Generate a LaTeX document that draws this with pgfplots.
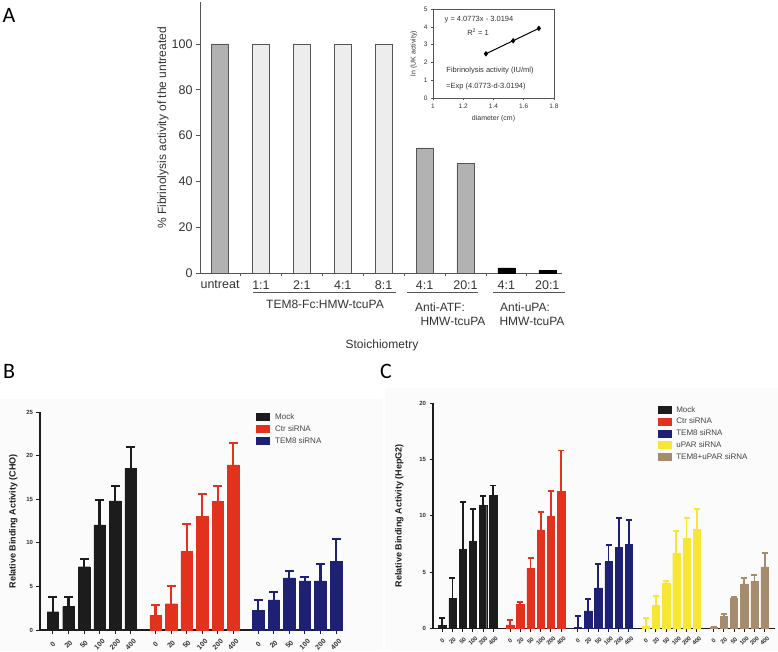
\documentclass[border=0pt]{standalone}
\usepackage{fontspec}
\setmainfont{Liberation Sans}
\newfontfamily\labfont{Carlito}
\usepackage{pgfplots}
\pgfplotsset{compat=1.18}
\definecolor{cblack}{HTML}{1C1C1C}
\definecolor{cred}{HTML}{E2311D}
\definecolor{cnavy}{HTML}{1E2173}
\definecolor{cyellow}{HTML}{F7E633}
\definecolor{ctan}{HTML}{A48C6C}
\definecolor{txtgray}{HTML}{333333}
\definecolor{leggray}{HTML}{454545}
\definecolor{lightbar}{HTML}{EDEDED}
\definecolor{midbar}{HTML}{B2B2B2}
\definecolor{axgray}{HTML}{555555}
\definecolor{bggray}{HTML}{FBFBFB}
\newcommand{\fs}[1]{\fontsize{#1}{#1}\selectfont}
\pgfplotsset{
  barB/.style={ybar, bar shift=0pt, bar width=11.5pt, fill=#1, draw=#1, forget plot,
    error bars/.cd, y dir=plus, y explicit, error mark=-,
    error bar style={draw=#1, line width=2.2pt},
    error mark options={rotate=90, mark size=4.5pt, draw=#1, line width=2pt}},
  barC/.style={ybar, bar shift=0pt, bar width=7.3pt, fill=#1, draw=#1, forget plot,
    error bars/.cd, y dir=plus, y explicit, error mark=-,
    error bar style={draw=#1, line width=1.8pt},
    error mark options={rotate=90, mark size=3pt, draw=#1, line width=1.8pt}},
  sw/.style={legend image code/.code={\fill[#1] (0pt,-3.5pt) rectangle (13pt,3.5pt);}},
}
\begin{document}
\begin{tikzpicture}
\useasboundingbox (0pt,0pt) rectangle (778pt,-651pt);
\fill[bggray] (0pt,-399pt) rectangle (383pt,-651pt);
\fill[bggray] (385pt,-388pt) rectangle (778pt,-651pt);
% ---------------- Panel A ----------------
\node[font=\labfont\fs{22}] at (9pt,-15pt) {A};
\begin{axis}[
  at={(200pt,-273pt)}, anchor=south west, scale only axis,
  width=362pt, height=271pt,
  xmin=-0.49, xmax=8.36, ymin=0, ymax=118.3,
  axis lines=left, axis line style={-, line width=1pt, draw=axgray},
  tick align=outside, major tick length=4pt, minor tick length=3pt,
  tick style={line width=0.8pt, draw=axgray},
  xtick={0,...,8}, xticklabels={untreat,1:1,2:1,4:1,8:1,4:1,20:1,4:1,20:1},
  minor xtick={0.5,1.5,2.5,3.5,4.5,5.5,6.5,7.5},
  major x tick style={draw=none},
  ytick={0,20,40,60,80,100},
  /pgf/number format/assume math mode=true,
  ticklabel style={font=\fs{12.5}, text=txtgray},
  clip=false,
]
\addplot[ybar, bar shift=0pt, bar width=17pt, fill=midbar, draw=axgray, line width=0.8pt] coordinates {(0,100) (5,54.6) (6,48.0)};
\addplot[ybar, bar shift=0pt, bar width=17pt, fill=lightbar, draw=axgray, line width=0.8pt] coordinates {(1,100) (2,100) (3,100) (4,100)};
\addplot[ybar, bar shift=0pt, bar width=17pt, fill=black, draw=black] coordinates {(7,2.2) (8,1.1)};
\end{axis}
\node[rotate=90, font=\fs{12}, text=txtgray] at (163pt,-128pt) {\% Fibrinolysis activity of the untreated};
\draw[axgray, line width=0.8pt] (253pt,-292pt) -- (396pt,-292pt);
\draw[axgray, line width=0.8pt] (407pt,-292pt) -- (478pt,-292pt);
\draw[axgray, line width=0.8pt] (493pt,-292pt) -- (565pt,-292pt);
\node[font=\fs{12}, text=txtgray] at (325pt,-304pt) {TEM8-Fc:HMW-tcuPA};
\node[font=\fs{12}, text=txtgray] at (440pt,-307pt) {Anti-ATF:};
\node[font=\fs{12}, text=txtgray] at (453pt,-321pt) {HMW-tcuPA};
\node[font=\fs{12}, text=txtgray] at (525pt,-307pt) {Anti-uPA:};
\node[font=\fs{12}, text=txtgray] at (532pt,-321pt) {HMW-tcuPA};
\node[font=\fs{12}, text=txtgray] at (382pt,-345pt) {Stoichiometry};
% inset
\begin{axis}[
  at={(433pt,-98pt)}, anchor=south west, scale only axis,
  width=121pt, height=89pt,
  xmin=1, xmax=1.8, ymin=0, ymax=5,
  xtick={1,1.2,1.4,1.6,1.8}, xticklabels={1,1.2,1.4,1.6,1.8},
  ytick={0,1,2,3,4,5},
  tick pos=left, tick align=outside, major tick length=2pt,
  axis line style={draw=axgray, line width=0.8pt},
  tick style={draw=axgray, line width=0.6pt},
  /pgf/number format/assume math mode=true,
  ticklabel style={font=\fs{6.5}, text=txtgray},
  xlabel={diameter (cm)}, ylabel={ln (UK activity)},
  label style={font=\fs{7}, text=txtgray},
  clip=false,
]
\addplot[black, line width=1pt, mark=diamond*, mark size=2pt] coordinates {(1.35,2.485) (1.53,3.219) (1.7,3.912)};
\node[font=\fs{7.5}, text=txtgray] at (axis cs:1.304,4.38) {y = 4.0773x - 3.0194};
\node[font=\fs{7.5}, text=txtgray] at (axis cs:1.298,3.71) {R\textsuperscript{2} = 1};
\node[font=\fs{7.5}, text=txtgray] at (axis cs:1.377,1.52) {Fibrinolysis activity (IU/ml)};
\node[font=\fs{7.5}, text=txtgray] at (axis cs:1.35,0.67) {=Exp (4.0773-d-3.0194)};
\end{axis}
% ---------------- Panel B ----------------
\node[font=\labfont\fs{22}] at (9pt,-371pt) {B};
\begin{axis}[
  at={(40pt,-630pt)}, anchor=south west, scale only axis,
  width=303pt, height=217.7pt,
  xmin=-0.83, xmax=18.65, ymin=0, ymax=25,
  axis lines=left, axis line style={-, line width=1.3pt, draw=cblack},
  tick align=outside, major tick length=3.5pt, tick style={line width=1pt, draw=cblack},
  ytick={0,5,10,15,20,25},
  xtick={0,1,2,3,4,5,6.6,7.6,8.6,9.6,10.6,11.6,13.2,14.2,15.2,16.2,17.2,18.2},
  xticklabels={0,20,50,100,200,400,0,20,50,100,200,400,0,20,50,100,200,400},
  /pgf/number format/assume math mode=true,
  yticklabel style={font=\bfseries\fs{6}, text=txtgray},
  xticklabel style={font=\bfseries\fs{7}, text=txtgray, yshift=-11pt, rotate=45, anchor=center},
  ylabel={Relative Binding Activity (CHO)},
  ylabel style={font=\bfseries\fs{9}, text=cblack},
  ylabel shift=2pt,
  legend style={at={(axis description cs:0.712,1.0)}, anchor=north west, draw=none, fill=none,
    inner sep=0pt, outer sep=0pt, font=\fs{8}, text=leggray, row sep=2.5pt,
    nodes={inner sep=1pt, text height=6pt, text depth=1.5pt},
    /tikz/every odd column/.append style={column sep=5pt}},
  legend cell align=left,
  clip=false,
]
\addlegendimage{sw=cblack}\addlegendentry{Mock}
\addlegendimage{sw=cred}\addlegendentry{Ctr siRNA}
\addlegendimage{sw=cnavy}\addlegendentry{TEM8 siRNA}
\addplot[barB=cblack] coordinates {(0,2.10) +- (0,1.73) (1,2.68) +- (0,1.07) (2,7.27) +- (0,0.88) (3,12.06) +- (0,2.84) (4,14.82) +- (0,1.68) (5,18.57) +- (0,2.49)};
\addplot[barB=cred] coordinates {(6.6,1.72) +- (0,1.15) (7.6,3.02) +- (0,2.07) (8.6,9.07) +- (0,3.10) (9.6,13.09) +- (0,2.57) (10.6,14.74) +- (0,1.80) (11.6,18.95) +- (0,2.55)};
\addplot[barB=cnavy] coordinates {(13.2,2.22) +- (0,1.26) (14.2,3.45) +- (0,0.95) (15.2,6.00) +- (0,0.78) (16.2,5.63) +- (0,0.50) (17.2,5.63) +- (0,1.91) (18.2,7.85) +- (0,2.60)};
\end{axis}
% ---------------- Panel C ----------------
\node[font=\labfont\fs{22}] at (386pt,-371pt) {C};
\begin{axis}[
  at={(433pt,-628.3pt)}, anchor=south west, scale only axis,
  width=341.8pt, height=225pt,
  xmin=-0.91, xmax=32.6, ymin=0, ymax=20,
  axis lines=left, axis line style={-, line width=1.3pt, draw=cblack},
  tick align=outside, major tick length=3.5pt, tick style={line width=1pt, draw=cblack},
  ytick={0,5,10,15,20},
  xtick={0,1,2,3,4,5,6.65,7.65,8.65,9.65,10.65,11.65,13.3,14.3,15.3,16.3,17.3,18.3,19.95,20.95,21.95,22.95,23.95,24.95,26.6,27.6,28.6,29.6,30.6,31.6},
  xticklabels={0,20,50,100,200,400,0,20,50,100,200,400,0,20,50,100,200,400,0,20,50,100,200,400,0,20,50,100,200,400},
  /pgf/number format/assume math mode=true,
  yticklabel style={font=\bfseries\fs{6}, text=txtgray},
  xticklabel style={font=\bfseries\fs{6}, text=txtgray, yshift=-9pt, rotate=45, anchor=center},
  ylabel={Relative Binding Activity (HepG2)},
  ylabel style={font=\bfseries\fs{9}, text=cblack},
  ylabel shift=9pt,
  legend style={at={(axis description cs:0.658,0.992)}, anchor=north west, draw=none, fill=none,
    inner sep=0pt, outer sep=0pt, font=\fs{8}, text=leggray, row sep=2.25pt,
    nodes={inner sep=1pt, text height=6pt, text depth=1.5pt},
    /tikz/every odd column/.append style={column sep=4pt}},
  legend cell align=left,
  clip=false,
]
\addlegendimage{sw=cblack}\addlegendentry{Mock}
\addlegendimage{sw=cred}\addlegendentry{Ctr siRNA}
\addlegendimage{sw=cnavy}\addlegendentry{TEM8 siRNA}
\addlegendimage{sw=cyellow}\addlegendentry{uPAR siRNA}
\addlegendimage{sw=ctan}\addlegendentry{TEM8+uPAR siRNA}
\addplot[barC=cblack] coordinates {(0,0.24) +- (0,0.65) (1,2.67) +- (0,1.83) (2,7.02) +- (0,4.18) (3,7.70) +- (0,2.90) (4,10.90) +- (0,0.86) (5,11.80) +- (0,0.90)};
\addplot[barC=cred] coordinates {(6.65,0.30) +- (0,0.47) (7.65,2.16) +- (0,0.21) (8.65,5.33) +- (0,0.89) (9.65,8.74) +- (0,1.63) (10.65,9.93) +- (0,2.27) (11.65,12.15) +- (0,3.65)};
\addplot[barC=cnavy] coordinates {(13.3,0.10) +- (0,1.00) (14.3,1.54) +- (0,1.06) (15.3,3.60) +- (0,2.10) (16.3,5.93) +- (0,1.47) (17.3,7.17) +- (0,2.61) (18.3,7.44) +- (0,2.22)};
\addplot[barC=cyellow] coordinates {(19.95,0.20) +- (0,0.69) (20.95,2.07) +- (0,0.80) (21.95,4.00) +- (0,0.20) (22.95,6.70) +- (0,1.95) (23.95,8.00) +- (0,1.84) (24.95,8.80) +- (0,1.84)};
\addplot[barC=ctan] coordinates {(26.6,0.09) +- (0,0.0) (27.6,1.07) +- (0,0.17) (28.6,2.64) +- (0,0.12) (29.6,3.94) +- (0,0.50) (30.6,4.15) +- (0,0.62) (31.6,5.45) +- (0,1.22)};
\end{axis}
\end{tikzpicture}
\end{document}
